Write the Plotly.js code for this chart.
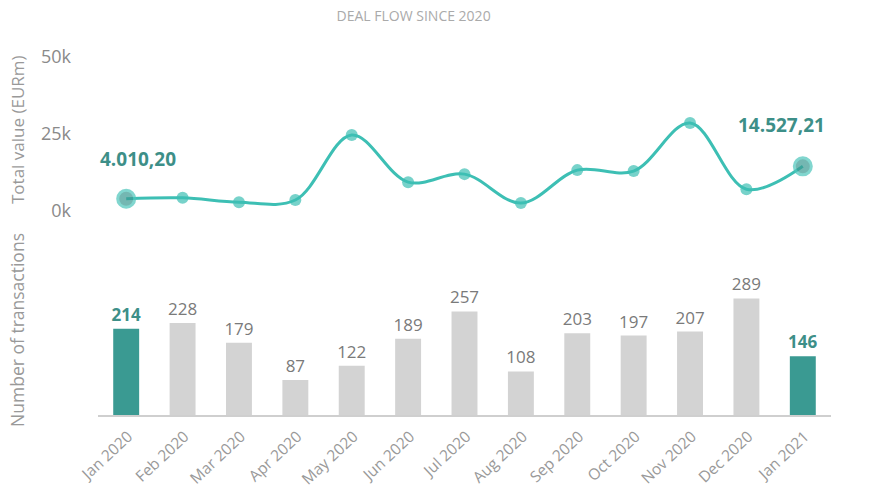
<!DOCTYPE html>
<html>
<head>
<meta charset="utf-8">
<script src="https://cdn.plot.ly/plotly-3.0.1.min.js"></script>
<style>html,body{margin:0;padding:0;background:#fff;}#chart{width:880px;height:495px;}</style>
</head>
<body>
<div id="chart"></div>
<script>
const months = ["Jan 2020","Feb 2020","Mar 2020","Apr 2020","May 2020","Jun 2020","Jul 2020","Aug 2020","Sep 2020","Oct 2020","Nov 2020","Dec 2020","Jan 2021"];
const totalValue = [4010.20, 4300, 2900, 3600, 24700, 9400, 12000, 2600, 13300, 13000, 28600, 7100, 14527.21];
const transactions = [214, 228, 179, 87, 122, 189, 257, 108, 203, 197, 207, 289, 146];
const valueTicks = [0, 25000, 50000];
const valueTickText = ["0k", "25k", "50k"];

const teal = "#3dbfb4";
const tealDark = "#3a9a92";
const labelTeal = "#3d8f88";
const grey = "#d3d3d3";
const last = months.length - 1;

function fmtEU(v) {
  const parts = v.toFixed(2).split(".");
  return parts[0].replace(/\B(?=(\d{3})+(?!\d))/g, ".") + "," + parts[1];
}

const barColors = transactions.map((v, i) => (i === 0 || i === last) ? tealDark : grey);
const barTextColors = transactions.map((v, i) => (i === 0 || i === last) ? labelTeal : "#7a7a7a");
const barText = transactions.map((v, i) => (i === 0 || i === last) ? "<b>" + v + "</b>" : String(v));

const mSizes = totalValue.map((v, i) => (i === 0 || i === last) ? 17 : 12);
const mColors = totalValue.map((v, i) => (i === 0 || i === last) ? tealDark : teal);
const mLineW = totalValue.map((v, i) => (i === 0 || i === last) ? 3 : 0);

const traces = [
  {
    type: "scatter", mode: "lines+markers", x: months, y: totalValue,
    xaxis: "x", yaxis: "y",
    line: {color: teal, width: 3, shape: "spline", smoothing: 1.0},
    marker: {size: mSizes, color: mColors, line: {color: "#4cc6bb", width: mLineW}},
    hoverinfo: "x+y"
  },
  {
    type: "bar", x: months, y: transactions, xaxis: "x", yaxis: "y2",
    marker: {color: barColors}, width: 0.46,
    text: barText, textposition: "outside", cliponaxis: false, constraintext: "none",
    textfont: {family: "Open Sans", size: 17, color: barTextColors},
    hoverinfo: "x+y"
  }
];

const fontFam = "Open Sans, sans-serif";
const layout = {
  width: 880, height: 495,
  margin: {l: 98, r: 49, t: 40, b: 80},
  paper_bgcolor: "#fff", plot_bgcolor: "#fff",
  showlegend: false,
  font: {family: fontFam, color: "#999"},
  title: {text: "DEAL FLOW SINCE 2020", x: 0.47, xref: "container", y: 0.978, yref: "container", yanchor: "top",
          pad: {t: 0, b: 0}, font: {family: fontFam, size: 14, color: "#aaa"}},
  bargap: 0.5,
  xaxis: {
    type: "category", range: [-0.5, 12.5], anchor: "y2",
    showgrid: false, zeroline: false,
    showline: true, linecolor: "#cfcfcf", linewidth: 1.5,
    tickangle: -43, ticks: "", ticklabelshift: 2, ticklabelstandoff: 5,
    tickfont: {family: fontFam, size: 15.5, color: "#999"}
  },
  yaxis: {
    domain: [0.493, 1], range: [-6169, 55519],
    tickvals: valueTicks, ticktext: valueTickText,
    showgrid: false, zeroline: false, showline: false,
    ticks: "", ticklabelstandoff: 26,
    tickfont: {family: fontFam, size: 18, color: "#8a8a8a"}
  },
  yaxis2: {
    domain: [0, 0.387], range: [0, 360],
    showgrid: false, zeroline: false, showline: false, showticklabels: false, ticks: ""
  },
  annotations: [
    {xref: "x", yref: "y", x: months[0], y: totalValue[0], text: "<b>" + fmtEU(totalValue[0]) + "</b>",
     showarrow: false, xshift: 12, yshift: 40, font: {family: fontFam, size: 19, color: labelTeal}},
    {xref: "x", yref: "y", x: months[last], y: totalValue[last], text: "<b>" + fmtEU(totalValue[last]) + "</b>",
     showarrow: false, xshift: -21, yshift: 41, font: {family: fontFam, size: 19, color: labelTeal}},
    {xref: "paper", yref: "paper", x: -0.1105, y: 0.76, text: "Total value (EURm)", textangle: -90,
     showarrow: false, xanchor: "center", yanchor: "middle", font: {family: fontFam, size: 17, color: "#999"}},
    {xref: "paper", yref: "paper", x: -0.1105, y: 0.227, text: "Number of transactions", textangle: -90,
     showarrow: false, xanchor: "center", yanchor: "middle", font: {family: fontFam, size: 17.5, color: "#999"}}
  ]
};

Plotly.newPlot("chart", traces, layout, {staticPlot: true, displayModeBar: false});
</script>
</body>
</html>
